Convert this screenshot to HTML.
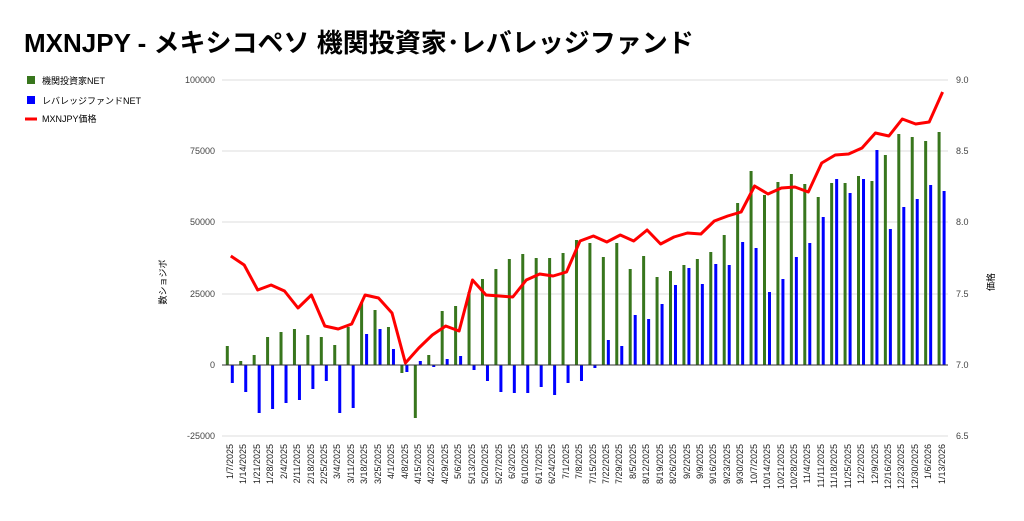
<!DOCTYPE html>
<html><head><meta charset="utf-8"><style>
body{margin:0;background:#fff;width:1024px;height:516px;overflow:hidden;font-family:"Liberation Sans","Noto Sans CJK JP",sans-serif}
</style></head><body>
<svg id="s" width="1024" height="516" xmlns="http://www.w3.org/2000/svg" font-family="Liberation Sans, Noto Sans CJK JP, sans-serif">
<text x="24" y="52" font-size="26" font-weight="bold" fill="#000">MXNJPY - メキシコペソ 機関投資家･レバレッジファンド</text>
<rect x="27" y="76" width="8" height="8" fill="#38761d"/><text x="42" y="84" font-size="9">機関投資家NET</text>
<rect x="27" y="96" width="8" height="8" fill="#0000ff"/><text x="42" y="104" font-size="9">レバレッジファンドNET</text>
<line x1="25" y1="119" x2="37" y2="119" stroke="#f00" stroke-width="3"/><text x="42" y="122" font-size="9">MXNJPY価格</text>
<g stroke="#ddd" stroke-width="1">
<line x1="222" x2="948" y1="80" y2="80"/><line x1="222" x2="948" y1="151" y2="151"/><line x1="222" x2="948" y1="222" y2="222"/><line x1="222" x2="948" y1="294" y2="294"/><line x1="222" x2="948" y1="436" y2="436"/>
</g>
<g font-size="9" fill="#444" text-anchor="end">
<text x="215" y="83">100000</text><text x="215" y="154">75000</text><text x="215" y="225">50000</text><text x="215" y="297">25000</text><text x="215" y="368">0</text><text x="215" y="439">-25000</text>
</g>
<g font-size="9" fill="#444">
<text x="956" y="83">9.0</text><text x="956" y="154">8.5</text><text x="956" y="225">8.0</text><text x="956" y="297">7.5</text><text x="956" y="368">7.0</text><text x="956" y="439">6.5</text>
</g>
<text transform="translate(166,282) rotate(-90)" font-size="9" text-anchor="middle">数ショジボ</text>
<text transform="translate(994,282) rotate(-90)" font-size="9" text-anchor="middle">価格</text>
<g id="bars"></g>
<line x1="222" x2="948" y1="365" y2="365" stroke="#333" stroke-width="1"/>
<polyline id="ln" fill="none" stroke="#f00" stroke-width="3" stroke-linejoin="round"/>
<g id="lb" font-size="9" fill="#222" text-anchor="end">
<text transform="translate(233,444) rotate(-90)">1/7/2025</text><text transform="translate(246,444) rotate(-90)">1/14/2025</text><text transform="translate(260,444) rotate(-90)">1/21/2025</text><text transform="translate(273,444) rotate(-90)">1/28/2025</text><text transform="translate(287,444) rotate(-90)">2/4/2025</text><text transform="translate(300,444) rotate(-90)">2/11/2025</text><text transform="translate(314,444) rotate(-90)">2/18/2025</text><text transform="translate(327,444) rotate(-90)">2/25/2025</text><text transform="translate(340,444) rotate(-90)">3/4/2025</text><text transform="translate(354,444) rotate(-90)">3/11/2025</text><text transform="translate(367,444) rotate(-90)">3/18/2025</text><text transform="translate(381,444) rotate(-90)">3/25/2025</text><text transform="translate(394,444) rotate(-90)">4/1/2025</text><text transform="translate(408,444) rotate(-90)">4/8/2025</text><text transform="translate(421,444) rotate(-90)">4/15/2025</text><text transform="translate(434,444) rotate(-90)">4/22/2025</text><text transform="translate(448,444) rotate(-90)">4/29/2025</text><text transform="translate(461,444) rotate(-90)">5/6/2025</text><text transform="translate(475,444) rotate(-90)">5/13/2025</text><text transform="translate(488,444) rotate(-90)">5/20/2025</text><text transform="translate(502,444) rotate(-90)">5/27/2025</text><text transform="translate(515,444) rotate(-90)">6/3/2025</text><text transform="translate(528,444) rotate(-90)">6/10/2025</text><text transform="translate(542,444) rotate(-90)">6/17/2025</text><text transform="translate(555,444) rotate(-90)">6/24/2025</text><text transform="translate(569,444) rotate(-90)">7/1/2025</text><text transform="translate(582,444) rotate(-90)">7/8/2025</text><text transform="translate(596,444) rotate(-90)">7/15/2025</text><text transform="translate(609,444) rotate(-90)">7/22/2025</text><text transform="translate(622,444) rotate(-90)">7/29/2025</text><text transform="translate(636,444) rotate(-90)">8/5/2025</text><text transform="translate(649,444) rotate(-90)">8/12/2025</text><text transform="translate(663,444) rotate(-90)">8/19/2025</text><text transform="translate(676,444) rotate(-90)">8/26/2025</text><text transform="translate(690,444) rotate(-90)">9/2/2025</text><text transform="translate(703,444) rotate(-90)">9/9/2025</text><text transform="translate(716,444) rotate(-90)">9/16/2025</text><text transform="translate(730,444) rotate(-90)">9/23/2025</text><text transform="translate(743,444) rotate(-90)">9/30/2025</text><text transform="translate(757,444) rotate(-90)">10/7/2025</text><text transform="translate(770,444) rotate(-90)">10/14/2025</text><text transform="translate(784,444) rotate(-90)">10/21/2025</text><text transform="translate(797,444) rotate(-90)">10/28/2025</text><text transform="translate(810,444) rotate(-90)">11/4/2025</text><text transform="translate(824,444) rotate(-90)">11/11/2025</text><text transform="translate(837,444) rotate(-90)">11/18/2025</text><text transform="translate(851,444) rotate(-90)">11/25/2025</text><text transform="translate(864,444) rotate(-90)">12/2/2025</text><text transform="translate(878,444) rotate(-90)">12/9/2025</text><text transform="translate(891,444) rotate(-90)">12/16/2025</text><text transform="translate(904,444) rotate(-90)">12/23/2025</text><text transform="translate(918,444) rotate(-90)">12/30/2025</text><text transform="translate(931,444) rotate(-90)">1/6/2026</text><text transform="translate(945,444) rotate(-90)">1/13/2026</text>
</g>
</svg>
<script>
var G=[346,361,355,337,332,329,335,337,345,327,302,310,327,373,418,355,311,306,292,279,269,259,254,258,258,253,240,243,257,243,269,256,277,271,265,259,252,235,203,171,195,182,174,184,197,183,183,176,181,155,134,137,141,132];
var B=[383,392,413,409,403,400,389,381,413,408,334,329,349,372,361,367,359,356,370,381,392,393,393,387,395,383,381,368,340,346,315,319,304,285,268,284,264,265,242,248,292,279,257,243,217,179,193,179,150,229,207,199,185,191];
var R=[256,265,290,285,291,308,295,326,329,324,295,298,313,363,348,335,326,331,280,295,296,297,280,274,276,272,241,236,242,235,241,230,244,237,233,234,221,216,212,186,194,188,187,192,163,155,154,148,133,136,119,124,122,92];
var ns="http://www.w3.org/2000/svg",g=document.getElementById("bars"),pts=[];
function bar(x,y,c){var r=document.createElementNS(ns,"rect");var t=Math.min(y,365),h=Math.abs(y-365);r.setAttribute("x",x-1.5);r.setAttribute("y",t);r.setAttribute("width",3);r.setAttribute("height",h);r.setAttribute("fill",c);g.appendChild(r);}
for(var i=0;i<54;i++){var c=229.8+13.43*i;bar(c-2.5,G[i],"#38761d");bar(c+2.5,B[i],"#0000ff");pts.push((c+1).toFixed(1)+","+R[i]);}
document.getElementById("ln").setAttribute("points",pts.join(" "));
</script>
</body></html>
